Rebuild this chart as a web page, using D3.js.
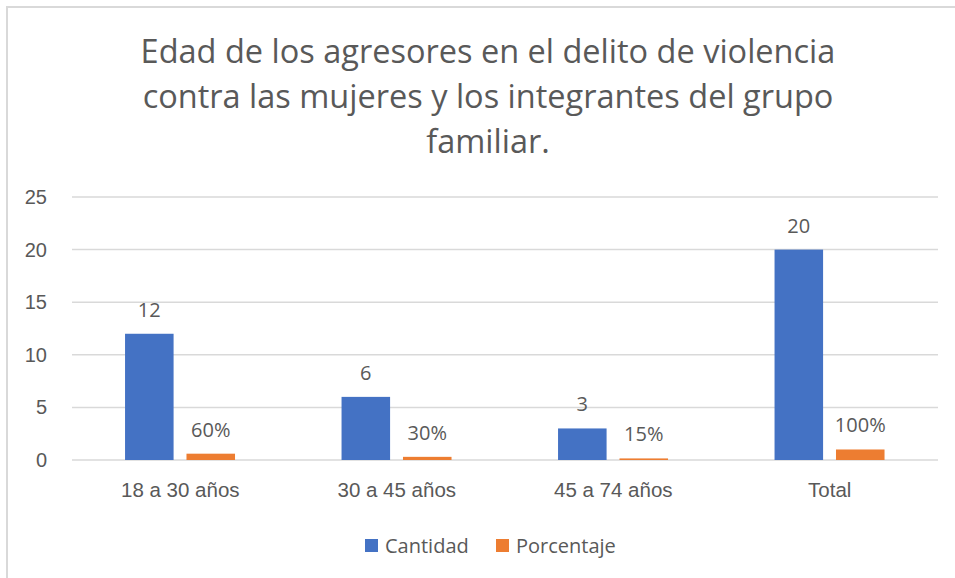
<!DOCTYPE html>
<html>
<head>
<meta charset="utf-8">
<title>Edad de los agresores</title>
<script src="https://d3js.org/d3.v7.min.js"></script>
<style>
  body { margin: 0; background: #fff; overflow: hidden; }
  svg { display: block; font-family: "Open Sans", Lato, sans-serif; }
  .grid line { stroke: #d9d9d9; stroke-width: 1.5; }
  .txt { fill: #595959; }
</style>
</head>
<body>
<script>
// data
var categories = ["18 a 30 años", "30 a 45 años", "45 a 74 años", "Total"];
var cantidad = [12, 6, 3, 20];
var porcentaje = [0.6, 0.3, 0.15, 1.0];
var porcentajeLabels = ["60%", "30%", "15%", "100%"];
var seriesNames = ["Cantidad", "Porcentaje"];
var yTicks = [0, 5, 10, 15, 20, 25];
var titleLines = [
  "Edad de los agresores en el delito de violencia",
  "contra las mujeres y los integrantes del grupo",
  "familiar."
];

var W = 955, H = 578;
var colors = ["#4472c4", "#ed7d31"];

var svg = d3.select("body").append("svg")
  .attr("width", W).attr("height", H);

// chart frame (only top and left edges are in view)
svg.append("rect")
  .attr("x", 7).attr("y", 7)
  .attr("width", W + 20).attr("height", H + 20)
  .attr("fill", "#fff")
  .attr("stroke", "#d9d9d9").attr("stroke-width", 2);

// title
svg.append("g").selectAll("text")
  .data(titleLines)
  .enter().append("text")
    .attr("class", "txt")
    .attr("x", 488)
    .attr("y", function(d, i) { return 63 + i * 45; })
    .attr("text-anchor", "middle")
    .style("font-size", "32.5px")
    .text(function(d) { return d; });

var plotL = 72, plotR = 938, plotT = 197, plotB = 460;

var y = d3.scaleLinear().domain([0, 25]).range([plotB, plotT]);
var x0 = d3.scaleBand().domain(categories).range([plotL, plotR]);
var x1 = d3.scaleBand().domain(seriesNames)
  .range([x0.bandwidth() * 0.245, x0.bandwidth() * 0.753])
  .paddingInner(0.21);

// gridlines
var grid = svg.append("g").attr("class", "grid");
grid.selectAll("line")
  .data(yTicks)
  .enter().append("line")
    .attr("x1", plotL).attr("x2", plotR)
    .attr("y1", function(d) { return y(d); })
    .attr("y2", function(d) { return y(d); });

// y axis labels
var yAxis = d3.axisLeft(y).tickValues(yTicks).tickSize(0).tickPadding(0);
var ya = svg.append("g").attr("transform", "translate(47,0)").call(yAxis);
ya.select(".domain").remove();
ya.selectAll("text").attr("class", "txt").attr("fill", null)
  .style("font-size", "20px").style("font-family", "inherit");

// x axis labels
var xAxis = d3.axisBottom(x0).tickSize(0).tickPadding(0);
var xa = svg.append("g").attr("transform", "translate(0,482)").call(xAxis);
xa.select(".domain").remove();
xa.selectAll("text").attr("class", "txt").attr("fill", null)
  .style("font-size", "20.5px").style("font-family", "inherit");

// bars
var groups = svg.append("g").selectAll("g")
  .data(categories)
  .enter().append("g")
    .attr("transform", function(d) { return "translate(" + x0(d) + ",0)"; });

groups.append("rect")
  .attr("x", x1("Cantidad"))
  .attr("width", x1.bandwidth())
  .attr("y", function(d, i) { return y(cantidad[i]); })
  .attr("height", function(d, i) { return plotB - y(cantidad[i]); })
  .attr("fill", colors[0]);

groups.append("rect")
  .attr("x", x1("Porcentaje"))
  .attr("width", x1.bandwidth())
  .attr("y", function(d, i) { return y(porcentaje[i]); })
  .attr("height", function(d, i) { return plotB - y(porcentaje[i]); })
  .attr("fill", colors[1]);

// data labels
groups.append("text")
  .attr("class", "txt")
  .attr("x", x1("Cantidad") + x1.bandwidth() / 2)
  .attr("y", function(d, i) { return y(cantidad[i]) - 17; })
  .attr("text-anchor", "middle")
  .style("font-size", "20px")
  .text(function(d, i) { return cantidad[i]; });

groups.append("text")
  .attr("class", "txt")
  .attr("x", x1("Porcentaje") + x1.bandwidth() / 2)
  .attr("y", function(d, i) { return y(porcentaje[i]) - 17; })
  .attr("text-anchor", "middle")
  .style("font-size", "20px")
  .text(function(d, i) { return porcentajeLabels[i]; });

// legend
var legendX = [365, 496];
var legend = svg.append("g").selectAll("g")
  .data(seriesNames)
  .enter().append("g")
    .attr("transform", function(d, i) { return "translate(" + legendX[i] + ",539)"; });
legend.append("rect")
  .attr("width", 13).attr("height", 13)
  .attr("fill", function(d, i) { return colors[i]; });
legend.append("text")
  .attr("class", "txt")
  .attr("x", 20).attr("y", 14)
  .style("font-size", "20px")
  .text(function(d) { return d; });
</script>
</body>
</html>
